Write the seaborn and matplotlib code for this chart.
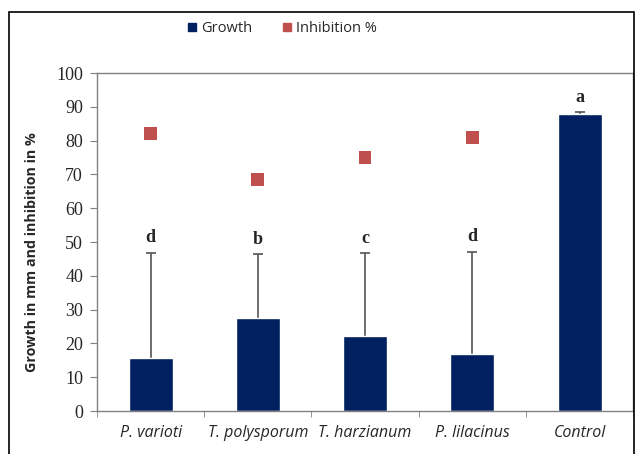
import numpy as np
import pandas as pd
import seaborn as sns
import matplotlib.pyplot as plt
from matplotlib.patches import Rectangle
from matplotlib.lines import Line2D

# values
isolates = ["P. varioti", "T. polysporum", "T. harzianum", "P. lilacinus", "Control"]
growth = [15.6, 27.6, 22.1, 16.9, 87.9]
growth_err = [31.3, 18.8, 24.6, 30.3, 0.7]
inhibition = [82.1, 68.6, 75.0, 81.0, np.nan]
letters = ["d", "b", "c", "d", "a"]

bar_color = "#002060"
mark_color = "#C0504D"

df = pd.DataFrame({"isolate": isolates, "growth": growth, "inhibition": inhibition})

sns.set_style("white")
fig = plt.figure(figsize=(6.36, 4.54), dpi=100)
ax = fig.add_axes([0.1525, 0.0947, 0.843, 0.7443])

sns.barplot(data=df, x="isolate", y="growth", color=bar_color, width=0.41,
            saturation=1, ax=ax, zorder=2)
xs = np.arange(len(isolates))
# symmetric bars drawn behind the columns, so only the upper half shows
ax.errorbar(xs, growth, yerr=growth_err, fmt="none",
            ecolor="#555555", elinewidth=1.2, capsize=3.5, capthick=1.2, zorder=1)
sns.scatterplot(x=xs, y=df["inhibition"], marker="s", s=85, color=mark_color,
                edgecolor="none", ax=ax, zorder=4, legend=False)

for x, g, e, lab in zip(xs, growth, growth_err, letters):
    ax.text(x, g + e + 1.8, lab, ha="center", va="bottom", fontsize=13,
            fontweight="bold", family="Liberation Serif")

ax.set_ylim(0, 100)
ax.set_xlim(-0.5, 4.5)
ax.set_yticks(range(0, 101, 10))
ax.set_yticklabels([str(v) for v in range(0, 101, 10)], family="Liberation Serif",
                   fontsize=13)
ax.set_xticks(xs)
ax.set_xticklabels(isolates, style="italic", family="Open Sans", fontsize=11.5)
ax.set_xlabel("")
ax.set_ylabel("Growth in mm and inhibition in %", family="Open Sans",
              fontweight="bold", fontsize=10.3)
ax.yaxis.set_label_coords(-0.108, 0.47)

for sp in ax.spines.values():
    sp.set_color("#808080")
    sp.set_linewidth(1)
# ticks like excel: category separators on x, outside ticks on y
ax.tick_params(axis="y", direction="out", length=5, color="#808080", left=True, pad=5)
ax.set_xticks(np.arange(-0.5, 5.0, 1.0), minor=True)
ax.tick_params(axis="x", which="major", length=0, pad=10)
ax.tick_params(axis="x", which="minor", direction="out", length=4, color="#808080",
               bottom=True)

handles = [
    Line2D([], [], marker="s", linestyle="none", color=bar_color, markersize=6),
    Line2D([], [], marker="s", linestyle="none", color=mark_color, markersize=6),
]
fig.legend(handles, ["Growth", "Inhibition %"], loc="center", ncol=2,
           bbox_to_anchor=(0.44, 0.937), frameon=False, handletextpad=0.0,
           columnspacing=1.8, handlelength=1.2,
           prop={"family": "Open Sans", "size": 10.5})

fig.patches.append(Rectangle((9 / 636, -0.01), 625 / 636, 1 - 12 / 454 + 0.01,
                             transform=fig.transFigure, fill=False,
                             edgecolor="black", linewidth=1.2))

fig.savefig("out.png", dpi=100)
